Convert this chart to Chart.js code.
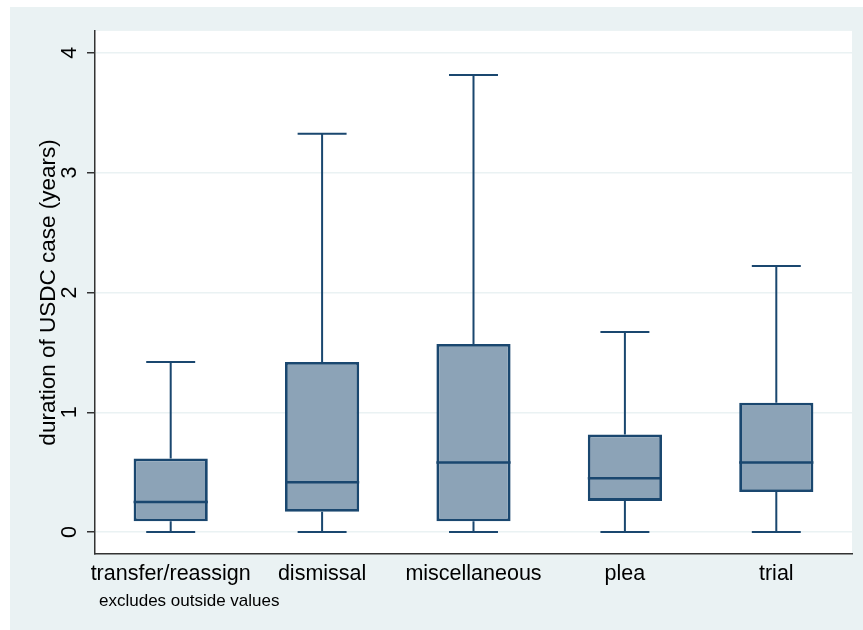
<!DOCTYPE html>
<html>
<head>
<meta charset="utf-8">
<title>Case duration by disposition</title>
<script src="https://cdn.jsdelivr.net/npm/chart.js@4.4.1/dist/chart.umd.min.js"></script>
<style>
  body { margin: 0; background: #fff; }
  #frame { position: absolute; left: 10px; top: 7px; width: 853px; height: 623px; background: #eaf2f3; }
</style>
</head>
<body>
<div id="frame"><canvas id="box_chart" width="853" height="623"></canvas></div>
<script>
  // box plot stats (years)
  const categories = ['transfer/reassign', 'dismissal', 'miscellaneous', 'plea', 'trial'];
  const whiskerLow = [0, 0, 0, 0, 0];
  const q1 = [0.09, 0.17, 0.09, 0.26, 0.335];
  const median = [0.25, 0.415, 0.58, 0.45, 0.58];
  const q3 = [0.615, 1.42, 1.57, 0.815, 1.08];
  const whiskerHigh = [1.42, 3.325, 3.815, 1.67, 2.22];
  const yTicks = [0, 1, 2, 3, 4];

  const navy = '#1a476f';
  const font = 'Liberation Sans';

  const plotBackground = {
    id: 'plotBackground',
    beforeDraw(chart) {
      const {ctx, chartArea: a} = chart;
      ctx.save();
      ctx.fillStyle = '#fff';
      ctx.fillRect(a.left, a.top, a.right - a.left, a.bottom - a.top);
      ctx.restore();
    }
  };

  // whiskers, caps and median lines on top of the floating bars
  const whiskers = {
    id: 'whiskers',
    afterDatasetsDraw(chart) {
      const ctx = chart.ctx;
      const y = chart.scales.y;
      const bars = chart.getDatasetMeta(0).data;
      ctx.save();
      ctx.strokeStyle = navy;
      bars.forEach(function(bar, i) {
        const x = bar.x;
        const half = bar.width / 2;
        const cap = bar.width * 0.33;
        const yHi = y.getPixelForValue(whiskerHigh[i]);
        const yLo = y.getPixelForValue(whiskerLow[i]);
        ctx.lineWidth = 2;
        ctx.beginPath();
        ctx.moveTo(x, y.getPixelForValue(q3[i]));
        ctx.lineTo(x, yHi);
        ctx.moveTo(x, y.getPixelForValue(q1[i]));
        ctx.lineTo(x, yLo);
        ctx.moveTo(x - cap, yHi);
        ctx.lineTo(x + cap, yHi);
        ctx.moveTo(x - cap, yLo);
        ctx.lineTo(x + cap, yLo);
        ctx.stroke();

        const yMed = y.getPixelForValue(median[i]);
        ctx.lineWidth = 2.5;
        ctx.beginPath();
        ctx.moveTo(x - half, yMed);
        ctx.lineTo(x + half, yMed);
        ctx.stroke();
      });
      ctx.restore();
    }
  };

  const note = {
    id: 'note',
    afterDraw(chart) {
      const {ctx, chartArea: a} = chart;
      ctx.save();
      ctx.fillStyle = '#000';
      ctx.font = '17px "' + font + '"';
      ctx.textBaseline = 'middle';
      ctx.fillText('excludes outside values', a.left + 4, a.bottom + 47);
      ctx.restore();
    }
  };

  const boxes = [];
  for (let i = 0; i < categories.length; i++) boxes.push([q1[i], q3[i]]);

  new Chart('box_chart', {
    type: 'bar',
    data: {
      labels: categories,
      datasets: [{
        data: boxes,
        backgroundColor: '#8ca3b7',
        borderColor: navy,
        borderWidth: 2.8,
        borderSkipped: false,
        barPercentage: 0.49,
        categoryPercentage: 1
      }]
    },
    options: {
      responsive: false,
      animation: false,
      layout: { padding: { top: 22, right: 11, left: 0, bottom: 0 } },
      plugins: { legend: { display: false }, tooltip: { enabled: false } },
      scales: {
        x: {
          offset: true,
          afterFit: function(s) { s.height = 76; },
          grid: { display: false, drawTicks: false },
          border: { color: '#333', width: 1.5 },
          ticks: { padding: 7, color: '#000', autoSkip: false, minRotation: 0, maxRotation: 0,
                   font: { family: font, size: 21.5 } }
        },
        y: {
          min: -0.183,
          max: 4.183,
          afterBuildTicks: function(s) { s.ticks = yTicks.map(v => ({value: v})); },
          afterFit: function(s) { s.width = 85; },
          grid: { color: '#eaf2f3', lineWidth: 1.5, tickColor: '#333', tickLength: 8, tickWidth: 1.5 },
          border: { color: '#333', width: 1.5 },
          ticks: { minRotation: 90, maxRotation: 90, crossAlign: 'center', padding: 11, color: '#000',
                   font: { family: font, size: 21.5 } },
          title: { display: true, text: 'duration of USDC case (years)', color: '#000',
                   font: { family: font, size: 22.5 }, padding: { top: 25, bottom: 0 } }
        }
      }
    },
    plugins: [plotBackground, whiskers, note]
  });
</script>
</body>
</html>
